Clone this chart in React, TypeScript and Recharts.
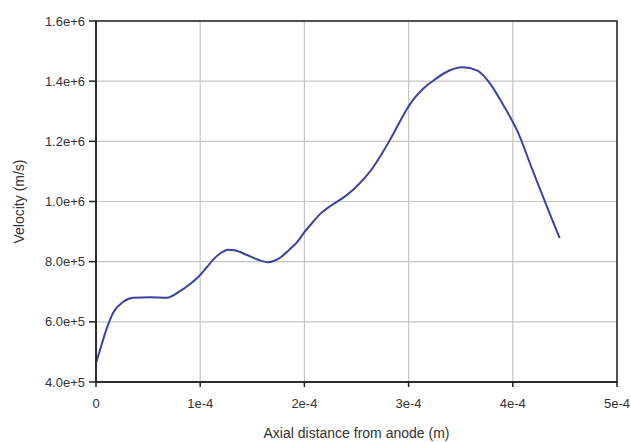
import React from "react";
import {
  LineChart,
  Line,
  XAxis,
  YAxis,
  CartesianGrid,
  ReferenceArea,
} from "recharts";

// axial distance from anode (m)
const distance = [
  0, 0.38e-5, 1.0e-5, 1.63e-5, 2.6e-5, 3.55e-5, 5.2e-5, 6.8e-5, 8.06e-5,
  9.0e-5, 9.98e-5, 1.06e-4, 1.12e-4, 1.19e-4, 1.27e-4, 1.33e-4, 1.45e-4,
  1.55e-4, 1.65e-4, 1.71e-4, 1.77e-4, 1.85e-4, 1.93e-4, 2.0e-4, 2.08e-4,
  2.15e-4, 2.25e-4, 2.37e-4, 2.47e-4, 2.57e-4, 2.66e-4, 2.74e-4, 2.82e-4,
  2.9e-4, 2.98e-4, 3.06e-4, 3.14e-4, 3.25e-4, 3.35e-4, 3.52e-4, 3.66e-4,
  3.78e-4, 3.91e-4, 4.04e-4, 4.19e-4, 4.36e-4, 4.45e-4,
];

// velocity (m/s)
const velocity = [
  4.63e5, 5.06e5, 5.75e5, 6.29e5, 6.66e5, 6.8e5, 6.82e5, 6.8e5, 7.02e5,
  7.25e5, 7.55e5, 7.8e5, 8.05e5, 8.27e5, 8.4e5, 8.38e5, 8.22e5,
  8.07e5, 7.98e5, 8.03e5, 8.14e5, 8.38e5, 8.65e5, 8.98e5, 9.31e5,
  9.58e5, 9.85e5, 1.012e6, 1.04e6, 1.075e6, 1.114e6, 1.157e6, 1.204e6,
  1.255e6, 1.305e6, 1.345e6, 1.375e6, 1.405e6, 1.428e6, 1.446e6, 1.435e6,
  1.393e6, 1.32e6, 1.237e6, 1.104e6, 9.55e5, 8.78e5,
];

const xTicks = [0, 1e-4, 2e-4, 3e-4, 4e-4, 5e-4];
const xTickLabels = ["0", "1e-4", "2e-4", "3e-4", "4e-4", "5e-4"];
const yTicks = [4e5, 6e5, 8e5, 1e6, 1.2e6, 1.4e6, 1.6e6];
const yTickLabels = ["4.0e+5", "6.0e+5", "8.0e+5", "1.0e+6", "1.2e+6", "1.4e+6", "1.6e+6"];

const data = distance.map((d, i) => ({ x: d, v: velocity[i] }));

const font = "'Liberation Sans', Arial, sans-serif";
const textColor = "#333";

export default function App() {
  return (
    <div style={{ position: "absolute", left: 0, top: 0, background: "#fff" }}>
      <LineChart
        width={631}
        height={442}
        data={data}
        margin={{ top: 21, right: 14, bottom: 0, left: 0 }}
        style={{ fontFamily: font }}
      >
        <CartesianGrid stroke="#c4c4c4" strokeWidth={1.2} />
        <XAxis
          dataKey="x"
          type="number"
          domain={[0, 5e-4]}
          ticks={xTicks}
          tickFormatter={(v: number) => xTickLabels[xTicks.indexOf(v)] ?? String(v)}
          height={60}
          tickSize={5}
          tickMargin={12}
          stroke="#222"
          strokeWidth={1.5}
          tick={{ fill: textColor, fontSize: 13 }}
          label={{
            value: "Axial distance from anode (m)",
            position: "insideBottom",
            offset: 4,
            fill: textColor,
            fontSize: 14,
          }}
        />
        <YAxis
          type="number"
          domain={[4e5, 1.6e6]}
          ticks={yTicks}
          tickFormatter={(v: number) => yTickLabels[yTicks.indexOf(v)] ?? String(v)}
          width={96}
          tickSize={7}
          tickMargin={4}
          stroke="#222"
          strokeWidth={1.5}
          tick={{ fill: textColor, fontSize: 13 }}
          label={{
            value: "Velocity (m/s)",
            angle: -90,
            position: "insideLeft",
            offset: 19,
            fill: textColor,
            fontSize: 14,
            style: { textAnchor: "middle" },
          }}
        />
        <ReferenceArea
          x1={0}
          x2={5e-4}
          y1={4e5}
          y2={1.6e6}
          fill="none"
          stroke="#222"
          strokeWidth={1.5}
        />
        <Line
          type="monotone"
          dataKey="v"
          stroke="#3a43a0"
          strokeWidth={2}
          dot={false}
          isAnimationActive={false}
        />
      </LineChart>
    </div>
  );
}
